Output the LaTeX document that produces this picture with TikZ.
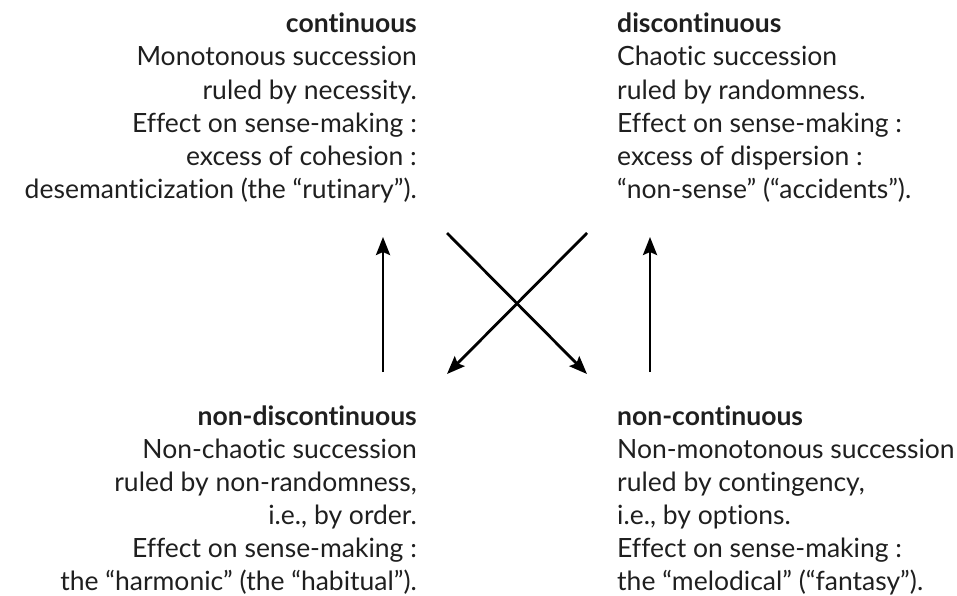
\documentclass[tikz,border=0pt]{standalone}
\usepackage{fontspec}
\setmainfont{Lato}[Ligatures=NoCommon]
\usetikzlibrary{arrows.meta}

\begin{document}
\begin{tikzpicture}[x=1pt,y=-1pt,
			txt/.style={inner sep=0pt,text=black!88,font={\fontsize{26.5}{33}\selectfont}},
			leftbox/.style={txt,align=right,anchor=base east},
			rightbox/.style={txt,align=left,anchor=base west},
			arr/.style={line width=2.8pt,-{Stealth[length=18pt,width=14pt,inset=3pt]}}]
			\useasboundingbox (0,0) rectangle (957,596);
			% the four boxes (anchored at the baseline of their last line)
			\node[leftbox] (cont) at (417,198) {\textbf{continuous}\\
				Monotonous succession\\
				ruled by necessity.\\
				Effect on sense-making :\\
				excess of cohesion :\\
				desemanticization (the “rutinary”).};
			\node[rightbox] (discont) at (617,198) {\textbf{discontinuous}\\
				Chaotic succession\\
				ruled by randomness.\\
				Effect on sense-making :\\
				excess of dispersion :\\
				“non-sense” (“accidents”).};
			\node[leftbox] (nondiscont) at (417,590) {\textbf{non-discontinuous}\\
				Non-chaotic succession\\
				ruled by non-randomness,\\
				i.e., by order.\\
				Effect on sense-making :\\
				the “harmonic” (the “habitual”).};
			\node[rightbox] (noncont) at (617,590) {\textbf{non-continuous}\\
				Non-monotonous succession\\
				ruled by contingency,\\
				i.e., by options.\\
				Effect on sense-making :\\
				the “melodical” (“fantasy”).};
			% arrows
			\coordinate (lb) at (383,372);
			\coordinate (lt) at (383,237);
			\coordinate (rb) at (650,372);
			\coordinate (rt) at (650,237);
			\coordinate (xtl) at (447,233);
			\coordinate (xtr) at (587,233);
			\coordinate (xbl) at (447,374);
			\coordinate (xbr) at (587,374);
			\draw[arr] (lb) -- (lt);
			\draw[arr] (rb) -- (rt);
			\draw[arr] (xtl) -- (xbr);
			\draw[arr] (xtr) -- (xbl);
		\end{tikzpicture}
\end{document}
